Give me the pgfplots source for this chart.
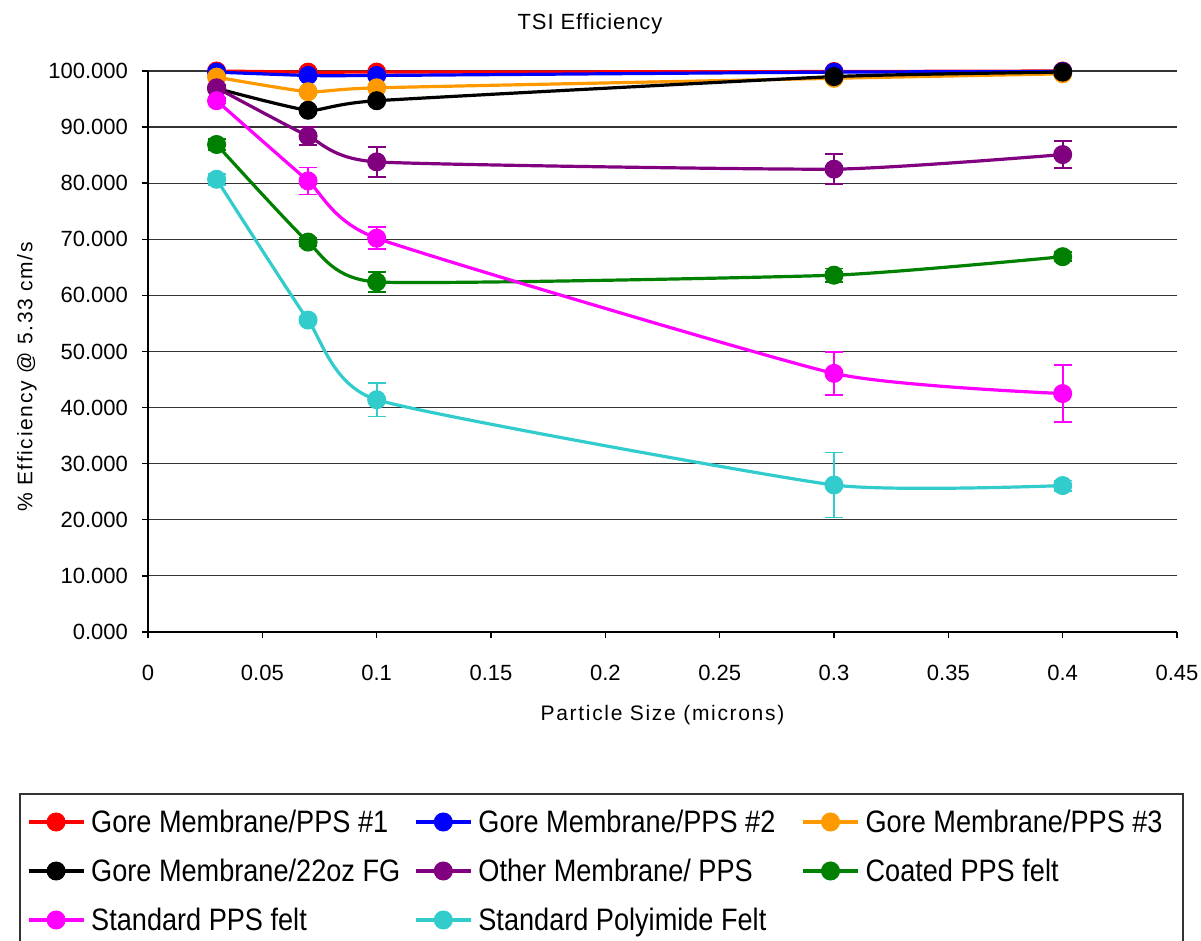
\documentclass[border=0pt]{standalone}
\usepackage{fontspec}
\setmainfont{Liberation Sans}
\newfontfamily\legfont{Liberation Sans}[FakeStretch=0.875]
\newfontfamily\spfont{Liberation Sans}[LetterSpace=8]
\newfontfamily\titfont{Liberation Sans}[LetterSpace=4]
\usepackage{pgfplots}
\pgfplotsset{compat=1.18}
\definecolor{cOrange}{HTML}{FF9900}
\definecolor{cPurple}{HTML}{800080}
\definecolor{cGreen}{HTML}{008000}
\definecolor{cMagenta}{HTML}{FF00FF}
\definecolor{cCyan}{HTML}{33CCCC}
\pgfplotsset{
  ser/.style={color=#1, line width=1.6pt, smooth, tension=0.3, mark=*, mark size=4.5pt,
    mark options={solid, fill=#1, draw=#1, line width=0.5pt}},
  eb/.style={error bars/.cd, y dir=both, y explicit,
    error bar style={line width=0.9pt, solid},
    error mark options={rotate=90, mark size=4.5pt, line width=0.9pt}},
}
\begin{document}
\begin{tikzpicture}
\path[use as bounding box] (0,0) rectangle (600.5pt,470.5pt);
\draw[line width=0.6pt, black!80] (10pt,73.5pt) rectangle (591.5pt,-10pt);
\begin{axis}[
  at={(74pt,154.5pt)}, anchor=south west,
  scale only axis, width=514.5pt, height=280.5pt,
  xmin=0, xmax=0.45, ymin=0, ymax=100,
  xtick={0,0.05,0.1,0.15,0.2,0.25,0.3,0.35,0.4,0.45},
  ytick={0,10,20,30,40,50,60,70,80,90,100},
  scaled x ticks=false,
  axis x line=bottom, axis y line=left,
  axis line style={-, line width=0.7pt, black},
  tick align=outside, major tick length=3pt,
  tick style={black, line width=0.7pt},
  ymajorgrids, grid style={black!80, line width=0.6pt},
  clip=false,
  tick label style={font=\fontsize{11}{13}\selectfont, /pgf/number format/assume math mode=true},
  xticklabel style={/pgf/number format/fixed, yshift=-10pt},
  yticklabel style={/pgf/number format/.cd, fixed, fixed zerofill, precision=3, /tikz/xshift=-3.5pt},
  title={\titfont TSI Efficiency},
  title style={at={(axis description cs:0.4295,1.0623)}, anchor=center, yshift=0pt, font=\fontsize{11}{13}\selectfont},
  xlabel={\spfont Particle Size (microns)},
  xlabel style={at={(axis description cs:0.5,-0.148)}, anchor=center, font=\fontsize{10.5}{12}\selectfont},
  ylabel={\spfont \% Efficiency @ 5.33 cm/s},
  ylabel style={at={(axis description cs:-0.1176,0.4545)}, anchor=center, font=\fontsize{10.5}{12}\selectfont},
  legend columns=3,
  legend cell align=left,
  legend style={at={(axis description cs:-0.11759,-0.31551)}, anchor=north west,
    draw=none, fill=none, inner sep=0pt, outer sep=0pt, row sep=11.5pt, column sep=0pt,
    font=\legfont\fontsize{15.5}{17}\selectfont,
    nodes={inner sep=0pt, text height=12pt, text depth=1pt, anchor=west}},
  legend image code/.code={\draw[mark repeat=2, mark phase=2, #1] plot coordinates {(0pt,0pt) (13.75pt,0pt) (27.5pt,0pt)};},
]
\addplot[ser=red] coordinates {(0.03,100.0) (0.07,99.8) (0.1,99.8) (0.3,99.9) (0.4,100.0)};
\addlegendentry{\makebox[164.5pt][l]{\hspace{3pt}Gore Membrane/PPS \#1}}
\addplot[ser=blue] coordinates {(0.03,99.8) (0.07,99.2) (0.1,99.2) (0.3,99.8) (0.4,99.9)};
\addlegendentry{\makebox[164.5pt][l]{\hspace{3pt}Gore Membrane/PPS \#2}}
\addplot[ser=cOrange] coordinates {(0.03,98.9) (0.07,96.3) (0.1,97.0) (0.3,98.7) (0.4,99.5)};
\addlegendentry{\makebox[164.5pt][l]{\hspace{3pt}Gore Membrane/PPS \#3}}
\addplot[ser=black] coordinates {(0.03,96.9) (0.07,93.0) (0.1,94.7) (0.3,99.0) (0.4,99.8)};
\addlegendentry{\makebox[164.5pt][l]{\hspace{3pt}Gore Membrane/22oz FG}}
\addplot[ser=cPurple, eb] coordinates {(0.03,97.0) +- (0,0.5) (0.07,88.4) +- (0,1.6) (0.1,83.8) +- (0,2.7) (0.3,82.5) +- (0,2.7) (0.4,85.1) +- (0,2.4)};
\addlegendentry{\makebox[164.5pt][l]{\hspace{3pt}Other Membrane/ PPS}}
\addplot[ser=cGreen, eb] coordinates {(0.03,86.9) +- (0,1.0) (0.07,69.5) +- (0,0.8) (0.1,62.4) +- (0,1.8) (0.3,63.6) +- (0,1.2) (0.4,66.9) +- (0,0.8)};
\addlegendentry{\makebox[164.5pt][l]{\hspace{3pt}Coated PPS felt}}
\addplot[ser=cMagenta, eb] coordinates {(0.03,94.7) +- (0,0.5) (0.07,80.4) +- (0,2.4) (0.1,70.2) +- (0,2.0) (0.3,46.1) +- (0,3.85) (0.4,42.5) +- (0,5.1)};
\addlegendentry{\makebox[164.5pt][l]{\hspace{3pt}Standard PPS felt}}
\addplot[ser=cCyan, eb] coordinates {(0.03,80.7) +- (0,1.0) (0.07,55.6) +- (0,0.5) (0.1,41.4) +- (0,3.0) (0.3,26.2) +- (0,5.8) (0.4,26.1) +- (0,0.9)};
\addlegendentry{\makebox[164.5pt][l]{\hspace{3pt}Standard Polyimide Felt}}
\end{axis}
\end{tikzpicture}
\end{document}
